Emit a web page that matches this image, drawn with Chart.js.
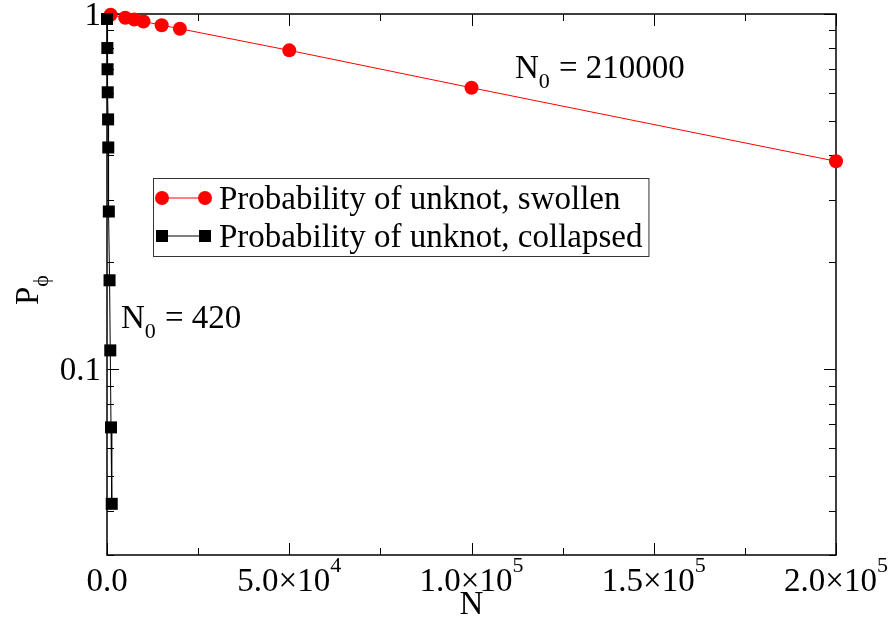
<!DOCTYPE html>
<html>
<head>
<meta charset="utf-8">
<script src="https://cdn.jsdelivr.net/npm/chart.js@4.4.0/dist/chart.umd.min.js"></script>
<style>
html, body { margin: 0; padding: 0; background: #fff; }
</style>
</head>
<body>
<canvas id="chart-unknot" width="889" height="630"></canvas>
<script>
const swollenN = [1000, 5000, 7500, 10000, 15000, 20000, 50000, 100000, 200000];
const swollenP = [0.995, 0.976, 0.965, 0.953, 0.93, 0.909, 0.79, 0.62, 0.385];
const collapsedN = [10, 100, 150, 200, 300, 350, 500, 700, 900, 1100, 1300];
const collapsedP = [0.968, 0.802, 0.699, 0.602, 0.505, 0.421, 0.278, 0.178, 0.113, 0.0686, 0.0418];

const xMajor = [0, 50000, 100000, 150000, 200000];
const xMinor = [25000, 75000, 125000, 175000];
const xLabels = [['0.0', ''], ['5.0×10', '4'], ['1.0×10', '5'], ['1.5×10', '5'], ['2.0×10', '5']];
const yMajor = [1, 0.1];
const yLabels = ['1', '0.1'];
const yMinor = [0.9, 0.8, 0.7, 0.6, 0.5, 0.4, 0.3, 0.2, 0.09, 0.08, 0.07, 0.06, 0.05, 0.04, 0.03];

const legendNames = ['Probability of unknot, swollen', 'Probability of unknot, collapsed'];

const FONT = '"Liberation Serif", "Times New Roman", serif';
const SIZE = 33;

function line(ctx, x1, y1, x2, y2) {
    ctx.beginPath();
    ctx.moveTo(x1, y1);
    ctx.lineTo(x2, y2);
    ctx.stroke();
}

// text with a subscript / superscript part, returns total width
function subText(ctx, x, y, main, small, shift, size) {
    ctx.font = size + 'px ' + FONT;
    ctx.fillText(main, x, y);
    const w = ctx.measureText(main).width;
    ctx.font = Math.round(size * 0.66) + 'px ' + FONT;
    ctx.fillText(small, x + w, y + shift);
    return w + ctx.measureText(small).width;
}

const xmgrFrame = {
    id: 'xmgrFrame',
    beforeDatasetsDraw(chart) {
        const {ctx, chartArea: a, scales: {x, y}} = chart;
        ctx.save();
        ctx.strokeStyle = '#000';
        ctx.lineWidth = 1.5;
        ctx.strokeRect(a.left, a.top, a.right - a.left, a.bottom - a.top);
        ctx.lineWidth = 1;
        xMajor.forEach(v => {
            const p = Math.round(x.getPixelForValue(v)) + 0.5;
            line(ctx, p, a.bottom, p, a.bottom - 12);
            line(ctx, p, a.top, p, a.top + 12);
        });
        xMinor.forEach(v => {
            const p = Math.round(x.getPixelForValue(v)) + 0.5;
            line(ctx, p, a.bottom, p, a.bottom - 7);
            line(ctx, p, a.top, p, a.top + 7);
        });
        yMajor.forEach(v => {
            const p = Math.round(y.getPixelForValue(v)) + 0.5;
            line(ctx, a.left, p, a.left + 12, p);
            line(ctx, a.right, p, a.right - 12, p);
        });
        yMinor.forEach(v => {
            const p = Math.round(y.getPixelForValue(v)) + 0.5;
            line(ctx, a.left, p, a.left + 7, p);
            line(ctx, a.right, p, a.right - 7, p);
        });
        ctx.restore();
    },
    afterDraw(chart) {
        const {ctx, chartArea: a, scales: {x, y}} = chart;
        ctx.save();
        ctx.fillStyle = '#000';
        ctx.textBaseline = 'alphabetic';

        // x tick labels
        xMajor.forEach((v, i) => {
            const [main, sup] = xLabels[i];
            ctx.font = SIZE + 'px ' + FONT;
            let w = ctx.measureText(main).width;
            ctx.font = Math.round(SIZE * 0.66) + 'px ' + FONT;
            w += ctx.measureText(sup).width;
            const p = x.getPixelForValue(v);
            subText(ctx, p - w / 2, 591, main, sup, -19, SIZE);
        });

        // y tick labels
        ctx.font = SIZE + 'px ' + FONT;
        ctx.textAlign = 'right';
        yMajor.forEach((v, i) => {
            ctx.fillText(yLabels[i], a.left - 6, y.getPixelForValue(v) + 11);
        });
        ctx.textAlign = 'left';

        // axis titles
        ctx.font = SIZE + 'px ' + FONT;
        ctx.textAlign = 'center';
        ctx.fillText('N', (a.left + a.right) / 2, 614);
        ctx.textAlign = 'left';

        ctx.save();
        ctx.translate(38, 305);
        ctx.rotate(-Math.PI / 2);
        subText(ctx, 0, 0, 'P', 'ϕ', 10, SIZE);
        ctx.restore();

        // annotations
        subText(ctx, 515, 78, 'N', '0', 10, SIZE);
        ctx.font = SIZE + 'px ' + FONT;
        ctx.fillText('= 210000', 559, 78);
        subText(ctx, 121, 328, 'N', '0', 10, SIZE);
        ctx.font = SIZE + 'px ' + FONT;
        ctx.fillText('= 420', 165, 328);

        // legend
        ctx.font = SIZE + 'px ' + FONT;
        const tw = Math.max(...legendNames.map(s => ctx.measureText(s).width));
        ctx.strokeStyle = '#333';
        ctx.lineWidth = 1;
        ctx.strokeRect(153.5, 178.5, 220 - 153 + tw + 5, 78);
        const rows = [198, 236];
        // swollen
        ctx.strokeStyle = '#ff0000';
        line(ctx, 162, rows[0], 205, rows[0]);
        ctx.fillStyle = '#ff0000';
        [162, 205].forEach(cx => {
            ctx.beginPath();
            ctx.arc(cx, rows[0], 7, 0, Math.PI * 2);
            ctx.fill();
        });
        // collapsed
        ctx.strokeStyle = '#000';
        line(ctx, 162, rows[1], 205, rows[1]);
        ctx.fillStyle = '#000';
        [162, 205].forEach(cx => ctx.fillRect(cx - 6, rows[1] - 6, 12, 12));
        ctx.fillStyle = '#000';
        ctx.font = SIZE + 'px ' + FONT;
        legendNames.forEach((s, i) => ctx.fillText(s, 219, rows[i] + 11));

        ctx.restore();
    }
};

new Chart(document.getElementById('chart-unknot'), {
    type: 'line',
    data: {
        datasets: [{
            label: legendNames[0],
            data: swollenN.map((n, i) => ({x: n, y: swollenP[i]})),
            borderColor: '#ff0000',
            backgroundColor: '#ff0000',
            borderWidth: 1,
            pointStyle: 'circle',
            pointRadius: 7,
            pointBorderWidth: 0,
            clip: false,
            order: 1
        }, {
            label: legendNames[1],
            data: collapsedN.map((n, i) => ({x: n, y: collapsedP[i]})),
            borderColor: '#000',
            backgroundColor: '#000',
            borderWidth: 1,
            pointStyle: 'rect',
            pointRadius: 8.5,
            pointBorderWidth: 0,
            clip: false,
            order: 0
        }]
    },
    options: {
        responsive: false,
        animation: false,
        devicePixelRatio: 1,
        layout: {padding: {left: 107, right: 53, top: 14, bottom: 75}},
        plugins: {legend: {display: false}, tooltip: {enabled: false}},
        scales: {
            x: {type: 'linear', min: 0, max: 200000, display: false},
            y: {type: 'logarithmic', min: 0.03, max: 1, display: false}
        }
    },
    plugins: [xmgrFrame]
});
</script>
</body>
</html>
